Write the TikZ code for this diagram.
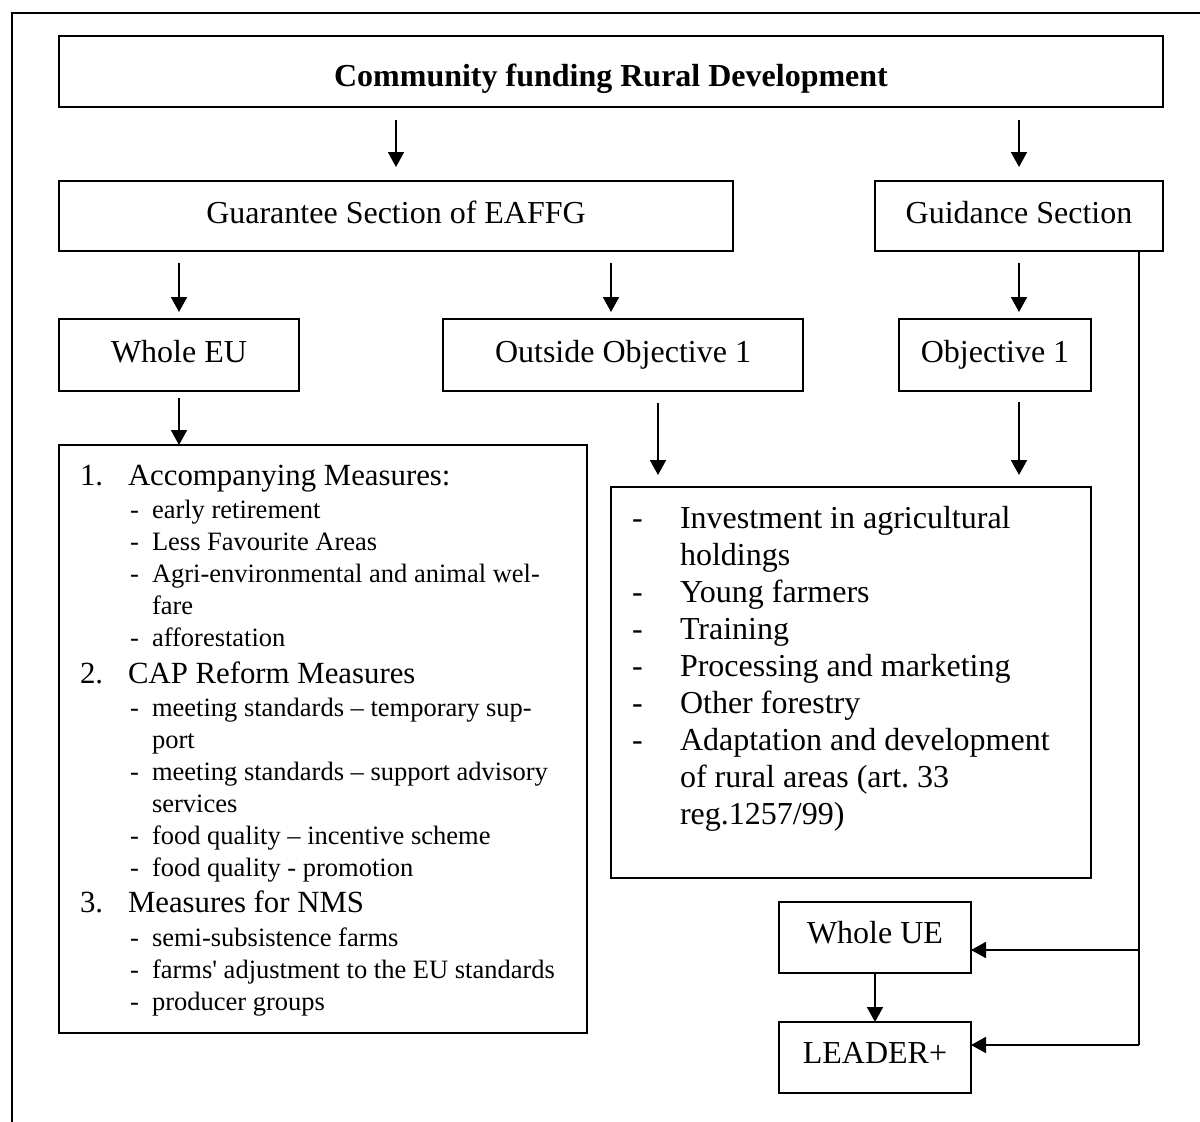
\documentclass[tikz,border=0pt]{standalone}
\usepackage{fontspec}
\setmainfont{Liberation Serif}[Ligatures=TeXOff]
\usetikzlibrary{arrows.meta,fit}
\newcommand\fbig{\fontsize{32}{37}\selectfont}
\newcommand\fmid{\fontsize{30.8}{35}\selectfont}
\newcommand\fsml{\fontsize{26.5}{31}\selectfont}
\tikzset{
  box/.style={draw, line width=2.2pt, rectangle, inner sep=0pt, outer sep=0pt},
  lab/.style={anchor=base, inner sep=0pt, outer sep=0pt, font=\fbig},
  arr/.style={-{Triangle[length=15pt,width=16pt]}, line width=1.8pt},
  ln/.style={line width=1.8pt},
  txt/.style={anchor=base west, inner sep=0pt, outer sep=0pt},
}
\begin{document}
\begin{tikzpicture}[x=1pt,y=-1pt]
\useasboundingbox (0,0) rectangle (1200,1122);
% outer frame (partial)
\draw[line width=2pt] (12,1122) -- (12,13) -- (1200,13);

% boxes
\node[box, fit={(59,36) (1163,107)}] (title) {};
\node[box, fit={(59,181) (733,251)}] (gar) {};
\node[box, fit={(875,181) (1163,251)}] (gui) {};
\node[box, fit={(59,319) (299,391)}] (weu) {};
\node[box, fit={(443,319) (803,391)}] (out) {};
\node[box, fit={(899,319) (1091,391)}] (ob1) {};
\node[box, fit={(59,445) (587,1033)}] (lbox) {};
\node[box, fit={(611,487) (1091,878)}] (rbox) {};
\node[box, fit={(779,902) (971,973)}] (wue) {};
\node[box, fit={(779,1022) (971,1093)}] (lea) {};

% box labels
\node[lab, font=\fbig\bfseries] (titleL) at ([yshift=-50pt]title.north) {Community funding Rural Development};
\node[lab] (garL) at ([yshift=-42pt]gar.north) {Guarantee Section of EAFFG};
\node[lab] (guiL) at ([yshift=-42pt]gui.north) {Guidance Section};
\node[lab] (weuL) at ([yshift=-43pt]weu.north) {Whole EU};
\node[lab] (outL) at ([yshift=-43pt]out.north) {Outside Objective 1};
\node[lab] (ob1L) at ([yshift=-43pt]ob1.north) {Objective 1};
\node[lab] (wueL) at ([yshift=-41pt]wue.north) {Whole UE};
\node[lab] (leaL) at ([yshift=-41pt]lea.north) {LEADER+};

% arrows
\draw[arr, shorten <=13pt, shorten >=14pt] (title.south -| gar.north) -- (gar.north);
\draw[arr, shorten <=13pt, shorten >=14pt] (title.south -| gui.north) -- (gui.north);
\draw[arr, shorten <=12pt, shorten >=7pt] (gar.south -| weu.north) -- (weu.north);
\coordinate (xo) at (611,0);
\draw[arr, shorten <=12pt, shorten >=7pt] (gar.south -| xo) -- (out.north -| xo);
\draw[arr, shorten <=12pt, shorten >=7pt] (gui.south) -- (ob1.north -| gui.south);
\draw[arr, shorten <=7pt] (weu.south) -- (lbox.north -| weu.south);
\coordinate (xr) at (658,0);
\draw[arr, shorten <=12pt, shorten >=12pt] (out.south -| xr) -- (rbox.north -| xr);
\draw[arr, shorten <=11pt, shorten >=12pt] (ob1.south -| gui.south) -- (rbox.north -| gui.south);
\coordinate (gl) at (1139,1045);
\coordinate (gb) at (1139,950);
\draw[ln] (gui.south -| gl) -- (gl);
\draw[arr] (gl) -- (lea.east |- gl);
\draw[arr] (gb) -- (wue.east |- gb);
\draw[arr] (wue.south) -- (lea.north);

% left box text
\node[txt, font=\fmid] (n1) at (80,485) {1.};
\node[txt, font=\fmid] (t1) at (128,485) {Accompanying Measures:};
\foreach \y/\d/\t [count=\i] in {
  518/-/early retirement,
  550/-/Less Favourite Areas,
  582/-/Agri-environmental and animal wel-,
  614//fare,
  646/-/afforestation}{
  \node[txt, font=\fsml] (d1\i) at (130,\y) {\d};
  \node[txt, font=\fsml] (s1\i) at (152,\y) {\t};
}
\node[txt, font=\fmid] (n2) at (80,683) {2.};
\node[txt, font=\fmid] (t2) at (128,683) {CAP Reform Measures};
\foreach \y/\d/\t [count=\i] in {
  716/-/meeting standards – temporary sup-,
  748//port,
  780/-/meeting standards – support advisory,
  812//services,
  844/-/food quality – incentive scheme,
  876/-/food quality - promotion}{
  \node[txt, font=\fsml] (d2\i) at (130,\y) {\d};
  \node[txt, font=\fsml] (s2\i) at (152,\y) {\t};
}
\node[txt, font=\fmid] (n3) at (80,912) {3.};
\node[txt, font=\fmid] (t3) at (128,912) {Measures for NMS};
\foreach \y/\d/\t [count=\i] in {
  946/-/semi-subsistence farms,
  978/-/farms' adjustment to the EU standards,
  1010/-/producer groups}{
  \node[txt, font=\fsml] (d3\i) at (130,\y) {\d};
  \node[txt, font=\fsml] (s3\i) at (152,\y) {\t};
}

% right box text
\foreach \y/\d/\t [count=\i] in {
  528/-/Investment in agricultural,
  565//holdings,
  602/-/Young farmers,
  639/-/Training,
  676/-/Processing and marketing,
  713/-/Other forestry,
  750/-/Adaptation and development,
  787//{of rural areas (art.\ 33},
  824//{reg.1257/99)}}{
  \node[txt, font=\fbig] (rd\i) at (632,\y) {\d};
  \node[txt, font=\fbig] (rt\i) at (680,\y) {\t};
}
\end{tikzpicture}
\end{document}
